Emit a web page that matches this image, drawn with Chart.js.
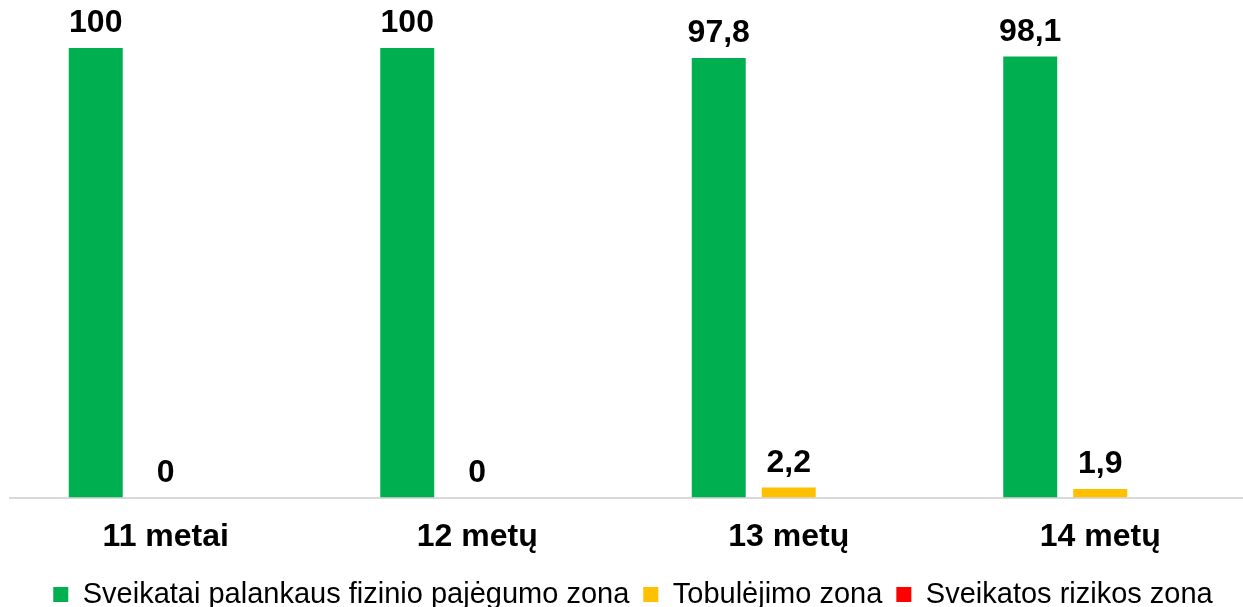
<!DOCTYPE html>
<html>
<head>
<meta charset="utf-8">
<script src="https://cdn.jsdelivr.net/npm/chart.js@4"></script>
<style>
    body { margin: 0; background: #fff; overflow: hidden; }
    #langas { width: 1243px; height: 607px; overflow: hidden; position: relative; }
    /* drobe truputi platesne, kad paskutine kategorija nusikirstu kaip originale */
    #wrap { width: 1256px; height: 619px; position: absolute; left: 0; top: 0; }
</style>
</head>
<body>
<div id="langas"><div id="wrap"><canvas id="grafica"></canvas></div></div>
<script>
const amzius = ["11 metai", "12 metų", "13 metų", "14 metų"];
const palankiZona = [100, 100, 97.8, 98.1];
const tobulejimoZona = [0, 0, 2.2, 1.9];
const rizikosZona = [0, 0, 0, 0];

const FONTAS = "'Liberation Sans', Arial, sans-serif";

// etiketes virs stulpeliu (tik zalia ir geltona serija)
const reiksmiuEtiketes = {
    id: "reiksmiuEtiketes",
    afterDatasetsDraw(chart) {
        const ctx = chart.ctx;
        ctx.save();
        ctx.font = "bold 32px " + FONTAS;
        ctx.fillStyle = "#000";
        ctx.textAlign = "center";
        ctx.textBaseline = "alphabetic";
        [0, 1].forEach((i) => {
            const meta = chart.getDatasetMeta(i);
            meta.data.forEach((bar, j) => {
                const v = chart.data.datasets[i].data[j];
                ctx.fillText(String(v).replace(".", ","), bar.x, bar.y - 16);
            });
        });
        ctx.restore();
    },
};

new Chart(document.getElementById("grafica"), {
    type: "bar",
    data: {
        labels: amzius,
        datasets: [
            {
                label: "Sveikatai palankaus fizinio pajėgumo zona",
                data: palankiZona,
                backgroundColor: "#00B050",
            },
            {
                label: "Tobulėjimo zona",
                data: tobulejimoZona,
                backgroundColor: "#FFC000",
            },
            {
                label: "Sveikatos rizikos zona",
                data: rizikosZona,
                backgroundColor: "#FF0000",
            },
        ],
    },
    options: {
        responsive: true,
        maintainAspectRatio: false,
        animation: false,
        layout: { padding: { top: 48, left: 10, right: 0, bottom: 0 } },
        datasets: {
            bar: { categoryPercentage: 0.6742, barPercentage: 0.771, borderWidth: 0 },
        },
        plugins: {
            legend: {
                position: "bottom",
                labels: {
                    boxWidth: 15,
                    boxHeight: 15,
                    padding: 14,
                    color: "#000",
                    font: { family: FONTAS, size: 29 },
                },
            },
            tooltip: { enabled: false },
        },
        scales: {
            x: {
                grid: { display: false, drawTicks: false },
                border: { color: "#D9D9D9", width: 2 },
                ticks: {
                    color: "#000",
                    padding: 20,
                    maxRotation: 0,
                    autoSkip: false,
                    font: { family: FONTAS, size: 32, weight: "bold" },
                },
                afterFit: (s) => { s.height = 68.5; },
            },
            y: { display: false, min: 0, max: 100 },
        },
    },
    plugins: [reiksmiuEtiketes],
});
</script>
</body>
</html>
